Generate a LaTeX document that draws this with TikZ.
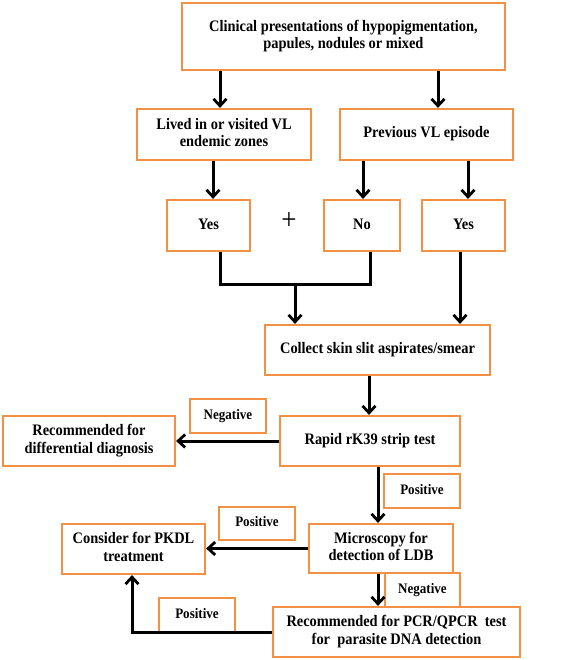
\documentclass[tikz,border=0pt]{standalone}
\usepackage{fontspec}
\usepackage{graphicx}
\setmainfont{Liberation Serif}
\usetikzlibrary{arrows.meta}
\definecolor{boxorange}{RGB}{242,145,70}
\newcommand\nt[1]{\scalebox{0.9}[1]{\begin{tabular}{@{}c@{}}#1\end{tabular}}}
\tikzset{
  box/.style={draw=boxorange, line width=2.2pt, fill=white, align=center, inner sep=0pt,
    font=\fontsize{16}{17.5}\selectfont\bfseries},
  lbl/.style={box, font=\fontsize{14.5}{16}\selectfont\bfseries},
  arr/.style={draw=black, line width=3pt, -{Straight Barb[length=7pt,width=13pt,line width=2.8pt]}},
  ln/.style={draw=black, line width=3pt}
}
\begin{document}
\begin{tikzpicture}[x=1pt,y=-1pt]
\useasboundingbox (0,0) rectangle (567,660);
\node[box, minimum width=323, minimum height=67] (clin) at (343.5,36.5) {\nt{Clinical presentations of hypopigmentation,\\papules, nodules or mixed}};
\node[box, minimum width=174, minimum height=51] (lived) at (224,134.5) {\nt{Lived in or visited VL\\endemic zones}};
\node[box, minimum width=173, minimum height=51] (prev) at (426.5,134.5) {\nt{Previous VL episode}};
\node[box, minimum width=83, minimum height=51] (yesa) at (208.5,225.5) {\nt{Yes}};
\node[box, minimum width=76, minimum height=51] (no) at (362,225.5) {\nt{No}};
\node[box, minimum width=83, minimum height=51] (yesb) at (463.5,225.5) {\nt{Yes}};
\node[font=\fontsize{30}{30}\selectfont] (plus) at (289,223) {\nt{+}};
\node[box, minimum width=225, minimum height=50] (coll) at (377.5,350) {\nt{Collect skin slit aspirates/smear}};
\node[box, minimum width=180, minimum height=50] (rapid) at (370,441) {\nt{Rapid rK39 strip test}};
\node[box, minimum width=172, minimum height=50] (diff) at (89,441) {\nt{Recommended for\\differential diagnosis}};
\node[lbl, minimum width=76, minimum height=34] (neg1) at (228,416) {\nt{Negative}};
\node[lbl, minimum width=76, minimum height=34] (pos1) at (422,491) {\nt{Positive}};
\node[box, minimum width=144, minimum height=49] (micro) at (381,548.5) {\nt{Microscopy for\\detection of LDB}};
\node[lbl, minimum width=76, minimum height=33] (pos2) at (257,523.5) {\nt{Positive}};
\node[box, minimum width=143, minimum height=50] (cons) at (133.5,549) {\nt{Consider for PKDL\\treatment}};
\node[lbl, minimum width=75, minimum height=34] (neg2) at (422.5,590) {\nt{Negative}};
\node[lbl, minimum width=76, minimum height=34] (pos3) at (197,615) {\nt{Positive}};
\node[box, minimum width=247, minimum height=50] (pcr) at (396.5,632) {\nt{Recommended for PCR/QPCR\ \ test\\for\ \ parasite DNA detection}};
\coordinate (join) at (295,284);
\coordinate (corner) at (132,632);
% connectors
\draw[arr] (clin.south -| 220,0) -- (lived.north -| 220,0);
\draw[arr] (clin.south -| 438,0) -- (prev.north -| 438,0);
\draw[arr] (lived.south -| 213,0) -- (yesa.north -| 213,0);
\draw[arr] (prev.south -| 363,0) -- (no.north -| 363,0);
\draw[arr] (prev.south -| 468,0) -- (yesb.north -| 468,0);
\draw[ln] (yesa.south -| 220,0) -- (220,284) -- (370,284) -- (no.south -| 370,0);
\draw[arr] (join) -- (coll.north -| join);
\draw[arr] (yesb.south -| 460,0) -- (coll.north -| 460,0);
\draw[arr] (coll.south -| 369,0) -- (rapid.north -| 369,0);
\draw[arr] (rapid.west) -- (diff.east |- rapid.west);
\draw[arr] (micro.west) -- (cons.east |- micro.west);
\draw[arr] (rapid.south -| 378,0) -- (micro.north -| 378,0);
\draw[arr] (micro.south -| 378,0) -- (pcr.north -| 378,0);
\draw[arr] (pcr.west) -- (corner) -- (cons.south -| corner);
\end{tikzpicture}
\end{document}
